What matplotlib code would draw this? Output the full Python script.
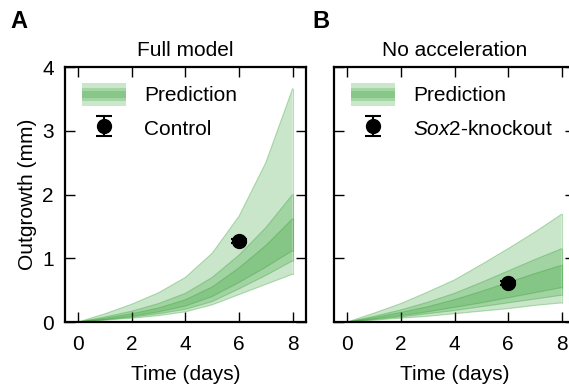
import matplotlib
matplotlib.use("Agg")
import matplotlib.pyplot as plt
import numpy as np
from matplotlib.legend_handler import HandlerBase
from matplotlib.patches import Rectangle

plt.rcParams['font.family'] = ['Liberation Sans', 'DejaVu Sans']
plt.rcParams['mathtext.fontset'] = 'custom'
plt.rcParams['mathtext.rm'] = 'Liberation Sans'
plt.rcParams['mathtext.it'] = 'Liberation Sans:italic'
FS = 15

# time points (days)
days = [0, 1, 2, 3, 4, 5, 6, 7, 8]

# Full model prediction bands (mm)
full_outer_hi = [0, 0.13, 0.28, 0.46, 0.70, 1.08, 1.66, 2.50, 3.66]
full_mid_hi = [0, 0.08, 0.17, 0.29, 0.45, 0.70, 1.05, 1.48, 2.00]
full_inner_hi = [0, 0.06, 0.13, 0.22, 0.35, 0.55, 0.85, 1.20, 1.62]
full_inner_lo = [0, 0.04, 0.09, 0.16, 0.25, 0.40, 0.62, 0.86, 1.12]
full_mid_lo = [0, 0.035, 0.075, 0.13, 0.20, 0.32, 0.52, 0.73, 0.96]
full_outer_lo = [0, 0.03, 0.06, 0.10, 0.16, 0.27, 0.43, 0.59, 0.75]

# No acceleration prediction bands (mm)
noacc_outer_hi = [0, 0.14, 0.29, 0.47, 0.66, 0.90, 1.15, 1.41, 1.69]
noacc_mid_hi = [0, 0.09, 0.19, 0.31, 0.45, 0.62, 0.80, 0.98, 1.15]
noacc_inner_hi = [0, 0.07, 0.15, 0.24, 0.35, 0.48, 0.62, 0.76, 0.89]
noacc_inner_lo = [0, 0.05, 0.10, 0.16, 0.23, 0.30, 0.38, 0.46, 0.54]
noacc_mid_lo = [0, 0.04, 0.08, 0.13, 0.18, 0.24, 0.30, 0.36, 0.42]
noacc_outer_lo = [0, 0.03, 0.06, 0.09, 0.13, 0.17, 0.21, 0.26, 0.30]

# measurements
control_t, control_y, control_err = 6, 1.27, 0.03
ko_t, ko_y, ko_err = 6, 0.61, 0.03

green = '#33a033'


class BandProxy:
    pass


class BandHandler(HandlerBase):
    def create_artists(self, legend, orig_handle, xdescent, ydescent,
                       width, height, fontsize, trans):
        arts = []
        for frac in [1.0, 0.58, 0.3]:
            h = height * frac
            arts.append(Rectangle((-xdescent, -ydescent + (height - h) / 2),
                                  width, h, facecolor=green, alpha=0.25,
                                  edgecolor='none', transform=trans))
        return arts


def draw_bands(ax, bands):
    for lo, hi in bands:
        ax.fill_between(days, lo, hi, facecolor=green, alpha=0.26,
                        edgecolor='none')
        ax.plot(days, lo, color=green, alpha=0.35, lw=0.8)
        ax.plot(days, hi, color=green, alpha=0.35, lw=0.8)
        ax.plot([days[-1], days[-1]], [lo[-1], hi[-1]], color=green,
                alpha=0.35, lw=0.8)


def style(ax):
    ax.set_xlim(-0.5, 8.5)
    ax.set_ylim(0, 4)
    ax.set_xticks([0, 2, 4, 6, 8])
    ax.set_yticks([0, 1, 2, 3, 4])
    ax.tick_params(direction='in', top=True, right=True, length=7,
                   width=1, labelsize=FS)
    ax.tick_params(axis='x', pad=9)
    ax.tick_params(axis='y', pad=8)
    for s in ax.spines.values():
        s.set_linewidth(1.6)
    ax.set_xlabel('Time (days)', fontsize=FS, labelpad=8)


def add_legend(ax, eb, label):
    ax.legend([BandProxy(), eb], ['Prediction', label],
              handler_map={BandProxy: BandHandler()}, loc='upper left',
              bbox_to_anchor=(0.07, 0.938), frameon=False, borderpad=0,
              borderaxespad=0, handlelength=2.1, handleheight=1.35,
              labelspacing=0.5, handletextpad=0.9, fontsize=FS)


fig = plt.figure(figsize=(5.69, 3.88), dpi=100)
axA = fig.add_axes([0.1142, 0.1701, 0.4236, 0.6572])
axB = fig.add_axes([0.5870, 0.1701, 0.4236, 0.6572])

draw_bands(axA, [(full_outer_lo, full_outer_hi), (full_mid_lo, full_mid_hi),
                 (full_inner_lo, full_inner_hi)])
ebA = axA.errorbar(control_t, control_y, yerr=control_err, fmt='o',
                   color='black', markersize=10, capsize=6, elinewidth=1.5,
                   capthick=1.5)
style(axA)
axA.set_ylabel('Outgrowth (mm)', fontsize=FS, labelpad=4)
axA.set_title('Full model', fontsize=FS, pad=8)
add_legend(axA, ebA, 'Control')

draw_bands(axB, [(noacc_outer_lo, noacc_outer_hi), (noacc_mid_lo, noacc_mid_hi),
                 (noacc_inner_lo, noacc_inner_hi)])
ebB = axB.errorbar(ko_t, ko_y, yerr=ko_err, fmt='o', color='black',
                   markersize=10, capsize=6, elinewidth=1.5, capthick=1.5)
style(axB)
axB.tick_params(labelleft=False)
axB.set_title('No acceleration', fontsize=FS, pad=8)
add_legend(axB, ebB, r'$\it{Sox2}$-knockout')

fig.text(10 / 569, 1 - 28 / 388, 'A', fontsize=17, fontweight='bold')
fig.text(312 / 569, 1 - 28 / 388, 'B', fontsize=17, fontweight='bold')

fig.savefig('out.png', dpi=100)
